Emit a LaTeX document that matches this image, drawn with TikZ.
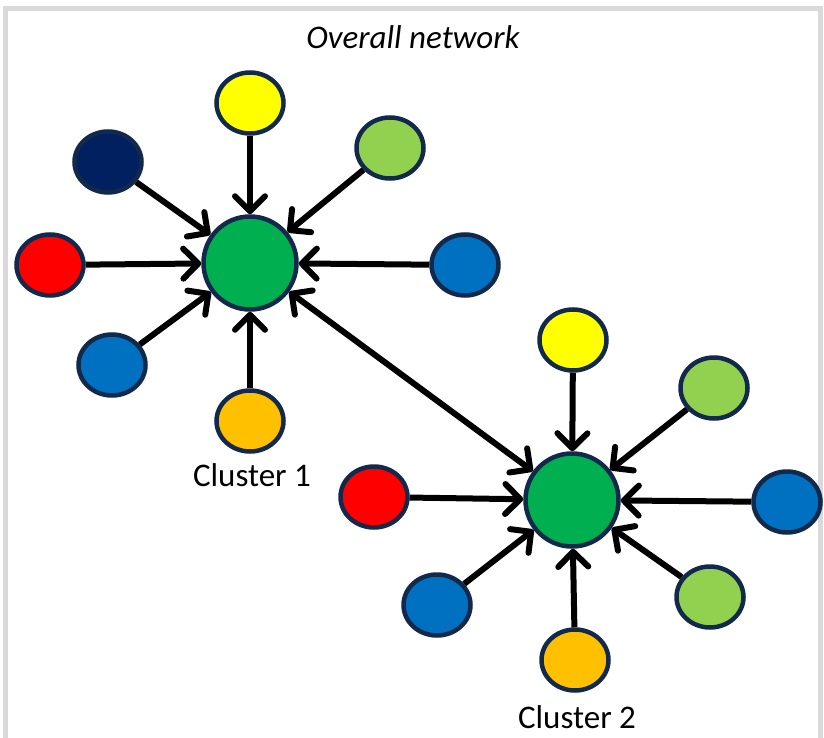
\documentclass[tikz,border=0pt]{standalone}
\usepackage{fontspec}
\setmainfont{Carlito}
\usetikzlibrary{arrows.meta,shapes.geometric}
\definecolor{hubgreen}{HTML}{00B050}
\definecolor{rim}{HTML}{13294B}
\definecolor{sunny}{HTML}{FFFF00}
\definecolor{lime}{HTML}{92D050}
\definecolor{navy}{HTML}{002060}
\definecolor{redd}{HTML}{FF0000}
\definecolor{bluee}{HTML}{0070C0}
\definecolor{amber}{HTML}{FFC000}
\definecolor{frame}{HTML}{D9D9D9}

\begin{document}
\begin{tikzpicture}[x=1pt,y=-1pt,
		hub/.style={circle,draw=rim,line width=4.5pt,fill=hubgreen,minimum size=93pt,inner sep=0pt},
		sat/.style={ellipse,draw=rim,line width=4.5pt,minimum width=67pt,minimum height=61pt,inner sep=0pt},
		barb/.tip={Straight Barb[length=15pt,width=30pt,round]},
		link/.style={line width=6pt,-barb},
		lab/.style={font=\fontsize{33}{38}\selectfont}]
		\useasboundingbox (0,0) rectangle (824,738);
		\draw[frame,line width=5pt] (5,738) -- (5,9) -- (820,9) -- (820,738);
		\node[font=\fontsize{33}{38}\selectfont\itshape] (title) at (413,37) {Overall network};
		% cluster 1
		\node[hub] (c1) at (250,263) {};
		\foreach \n/\x/\y/\col in {a1/108/162/navy, a2/250/103/sunny, a3/390/148/lime,
			a4/50/265/redd, a5/465/265/bluee, a6/112/365/bluee, a7/250/421/amber}{
			\node[sat,fill=\col] (\n) at (\x,\y) {};
			\draw[link] (\n) -- (c1);
		}
		\node[lab] (lab1) at (252,475) {Cluster 1};
		% cluster 2
		\node[hub] (c2) at (572,500) {};
		\foreach \n/\x/\y/\col in {b1/573/340/sunny, b2/714/388/lime, b3/374/497/redd,
			b4/787/502/bluee, b5/437/605/bluee, b6/710/597/lime, b7/575/660/amber}{
			\node[sat,fill=\col] (\n) at (\x,\y) {};
			\draw[link] (\n) -- (c2);
		}
		\node[lab] (lab2) at (577,717) {Cluster 2};
		% link between clusters
		\draw[link,barb-barb] (c1) -- (c2);
	\end{tikzpicture}
\end{document}
